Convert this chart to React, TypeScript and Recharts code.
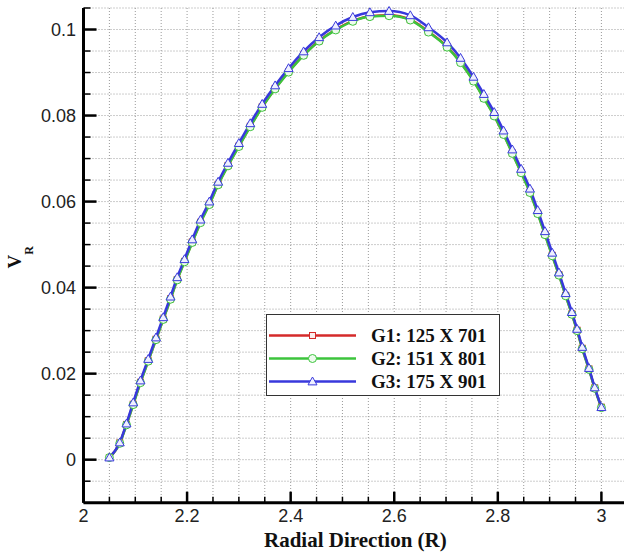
import React from 'react';
import { LineChart, Line, XAxis, YAxis, CartesianGrid, Legend } from 'recharts';

const radial = [
  2.050, 2.070, 2.083, 2.096, 2.110, 2.125, 2.140, 2.154, 2.168, 2.181,
  2.195, 2.210, 2.226, 2.243, 2.260, 2.279, 2.300, 2.322, 2.345, 2.370,
  2.396, 2.425, 2.455, 2.487, 2.520, 2.553, 2.590, 2.631, 2.666, 2.702,
  2.728, 2.753, 2.773, 2.793, 2.811, 2.828, 2.845, 2.862, 2.877, 2.891,
  2.905, 2.918, 2.931, 2.943, 2.953, 2.963, 2.976, 2.987, 3.000,
];

const g1 = [
  0.0005, 0.0039, 0.0082, 0.0129, 0.0180, 0.0230, 0.0280, 0.0327, 0.0374, 0.0419,
  0.0461, 0.0506, 0.0552, 0.0594, 0.0640, 0.0684, 0.0729, 0.0775, 0.0820, 0.0863,
  0.0902, 0.0941, 0.0974, 0.1000, 0.1020, 0.1031, 0.1033, 0.1023, 0.0995, 0.0960,
  0.0924, 0.0881, 0.0841, 0.0800, 0.0757, 0.0713, 0.0668, 0.0622, 0.0573, 0.0524,
  0.0475, 0.0430, 0.0382, 0.0339, 0.0301, 0.0259, 0.0211, 0.0167, 0.0122,
];

const g2 = [
  0.0005, 0.0038, 0.0081, 0.0128, 0.0179, 0.0229, 0.0279, 0.0326, 0.0373, 0.0418,
  0.0460, 0.0505, 0.0551, 0.0593, 0.0639, 0.0683, 0.0728, 0.0774, 0.0819, 0.0862,
  0.0901, 0.0940, 0.0973, 0.0999, 0.1019, 0.1030, 0.1032, 0.1022, 0.0994, 0.0959,
  0.0923, 0.0880, 0.0840, 0.0799, 0.0756, 0.0712, 0.0667, 0.0621, 0.0572, 0.0523,
  0.0474, 0.0429, 0.0381, 0.0338, 0.0300, 0.0258, 0.0210, 0.0166, 0.0121,
];

const g3 = [
  0.0005, 0.0040, 0.0084, 0.0133, 0.0184, 0.0234, 0.0284, 0.0331, 0.0379, 0.0424,
  0.0466, 0.0512, 0.0558, 0.0600, 0.0646, 0.0690, 0.0736, 0.0782, 0.0827, 0.0870,
  0.0910, 0.0949, 0.0982, 0.1009, 0.1029, 0.1040, 0.1043, 0.1033, 0.1005, 0.0970,
  0.0934, 0.0890, 0.0850, 0.0808, 0.0765, 0.0721, 0.0676, 0.0630, 0.0580, 0.0531,
  0.0481, 0.0435, 0.0387, 0.0343, 0.0304, 0.0262, 0.0213, 0.0168, 0.0122,
];

const xTicks = [
  2, 2.05, 2.1, 2.15, 2.2, 2.25, 2.3, 2.35, 2.4, 2.45, 2.5, 2.55,
  2.6, 2.65, 2.7, 2.75, 2.8, 2.85, 2.9, 2.95, 3, 3.05,
];
const yTicks = [
  -0.01, -0.005, 0, 0.005, 0.01, 0.015, 0.02, 0.025, 0.03, 0.035, 0.04, 0.045,
  0.05, 0.055, 0.06, 0.065, 0.07, 0.075, 0.08, 0.085, 0.09, 0.095, 0.1, 0.105,
];

const seriesNames = ['G1: 125 X 701', 'G2: 151 X 801', 'G3: 175 X 901'];
const seriesKeys = ['g1', 'g2', 'g3'];
const seriesColors = ['#d42a2a', '#3cc43c', '#3838dc'];
const seriesShapes = ['square', 'circle', 'triangle'];

const data = radial.map((r, i) => ({ r, g1: g1[i], g2: g2[i], g3: g3[i] }));

const SANS = '"Liberation Sans", Arial, Helvetica, sans-serif';
const SERIF = '"Liberation Serif", "Times New Roman", Times, serif';

function Marker({ shape, cx, cy, color }: { shape: string; cx: number; cy: number; color: string }) {
  if (cx == null || cy == null || isNaN(cx) || isNaN(cy)) return null;
  if (shape === 'square') {
    return <rect x={cx - 3} y={cy - 3} width={6} height={6} fill="#fbeeee" stroke={color} strokeWidth={1} />;
  }
  if (shape === 'circle') {
    return <circle cx={cx} cy={cy} r={4} fill="#eefbee" stroke={color} strokeWidth={1} />;
  }
  const s = 4.5;
  return (
    <polygon
      points={`${cx},${cy - s} ${cx - s},${cy + s * 0.75} ${cx + s},${cy + s * 0.75}`}
      fill="#eef0ff"
      stroke={color}
      strokeWidth={1}
    />
  );
}

const XTick = (props: any) => {
  const { x, y, payload } = props;
  const v = payload.value as number;
  const major = Math.abs(v * 5 - Math.round(v * 5)) < 1e-6;
  return (
    <g>
      <line x1={x} x2={x} y1={y} y2={y - (major ? 11 : 6)} stroke="#000" strokeWidth={major ? 2.5 : 1.5} />
      {major && (
        <text x={x} y={y + 19.5} textAnchor="middle" fontSize={18} fontFamily={SANS} fill="#222">
          {String(Math.round(v * 10) / 10)}
        </text>
      )}
    </g>
  );
};

const YTick = (props: any) => {
  const { x, y, payload } = props;
  const v = payload.value as number;
  const major = Math.abs(v * 50 - Math.round(v * 50)) < 1e-6;
  return (
    <g>
      <line x1={x} x2={x + (major ? 13 : 7)} y1={y} y2={y} stroke="#000" strokeWidth={major ? 2.5 : 1.5} />
      {major && (
        <text x={x - 7.5} y={y + 6.5} textAnchor="end" fontSize={18} fontFamily={SANS} fill="#222">
          {String(Math.round(v * 100) / 100)}
        </text>
      )}
    </g>
  );
};

const YLabel = (props: any) => {
  const vb = props.viewBox || {};
  const x = vb.x + (vb.width || 0) - 62;
  const y = vb.y + vb.height / 2 + 2;
  return (
    <text
      x={x}
      y={y}
      transform={`rotate(-90, ${x}, ${y})`}
      textAnchor="middle"
      fontFamily={SERIF}
      fontWeight="bold"
      fontSize={19}
      fill="#111"
    >
      V
      <tspan dy={12} fontSize={12}>R</tspan>
    </text>
  );
};

const XLabel = (props: any) => {
  const vb = props.viewBox || {};
  return (
    <text
      x={vb.x + vb.width / 2}
      y={vb.y + 44}
      textAnchor="middle"
      fontFamily={SERIF}
      fontWeight="bold"
      fontSize={21}
      fill="#111"
    >
      Radial Direction (R)
    </text>
  );
};

const LegendBox = () => (
  <div
    style={{
      border: '1.5px solid #333',
      background: '#fff',
      width: 234,
      height: 82,
      boxSizing: 'border-box',
      paddingTop: 9,
    }}
  >
    {seriesNames.map((name, i) => (
      <div key={name} style={{ display: 'flex', alignItems: 'center', height: 23 }}>
        <svg width={92} height={23} style={{ display: 'block' }}>
          <line x1={2} x2={89} y1={11.5} y2={11.5} stroke={seriesColors[i]} strokeWidth={2.5} />
          <Marker shape={seriesShapes[i]} cx={45.5} cy={11.5} color={seriesColors[i]} />
        </svg>
        <span
          style={{
            marginLeft: 12,
            fontFamily: SERIF,
            fontWeight: 'bold',
            fontSize: 19,
            color: '#111',
            whiteSpace: 'nowrap',
            lineHeight: '23px',
          }}
        >
          {name}
        </span>
      </div>
    ))}
  </div>
);

export default function App() {
  return (
    <div
      style={{
        position: 'absolute',
        left: 0,
        top: 0,
        width: 624,
        height: 552,
        overflow: 'hidden',
        background: '#fff',
      }}
    >
      <LineChart
        width={640}
        height={552}
        data={data}
        margin={{ top: 8, right: 12.7, bottom: 48.3, left: 82.5 }}
      >
        <CartesianGrid stroke="#9a9a9a" strokeDasharray="1 2" strokeWidth={1} />
        <XAxis
          dataKey="r"
          type="number"
          domain={[2, 3.05]}
          ticks={xTicks}
          interval={0}
          height={1}
          tickSize={0}
          tickMargin={0}
          tick={<XTick />}
          axisLine={{ stroke: '#000', strokeWidth: 3 }}
          label={{ content: <XLabel /> }}
        />
        <YAxis
          type="number"
          domain={[-0.01, 0.105]}
          ticks={yTicks}
          interval={0}
          width={1}
          tickSize={0}
          tickMargin={0}
          tick={<YTick />}
          axisLine={{ stroke: '#000', strokeWidth: 3 }}
          label={{ content: <YLabel /> }}
        />
        {seriesKeys.map((k, i) => (
          <Line
            key={k}
            dataKey={k}
            name={seriesNames[i]}
            type="monotone"
            stroke={seriesColors[i]}
            strokeWidth={2.5}
            isAnimationActive={false}
            dot={(p: any) => (
              <Marker key={`${k}-${p.index}`} shape={seriesShapes[i]} cx={p.cx} cy={p.cy} color={seriesColors[i]} />
            )}
            activeDot={false}
          />
        ))}
        <Legend
          layout="horizontal"
          verticalAlign="middle"
          align="center"
          content={<LegendBox />}
          wrapperStyle={{ left: 266, top: 314, width: 234, height: 82 }}
        />
      </LineChart>
    </div>
  );
}
